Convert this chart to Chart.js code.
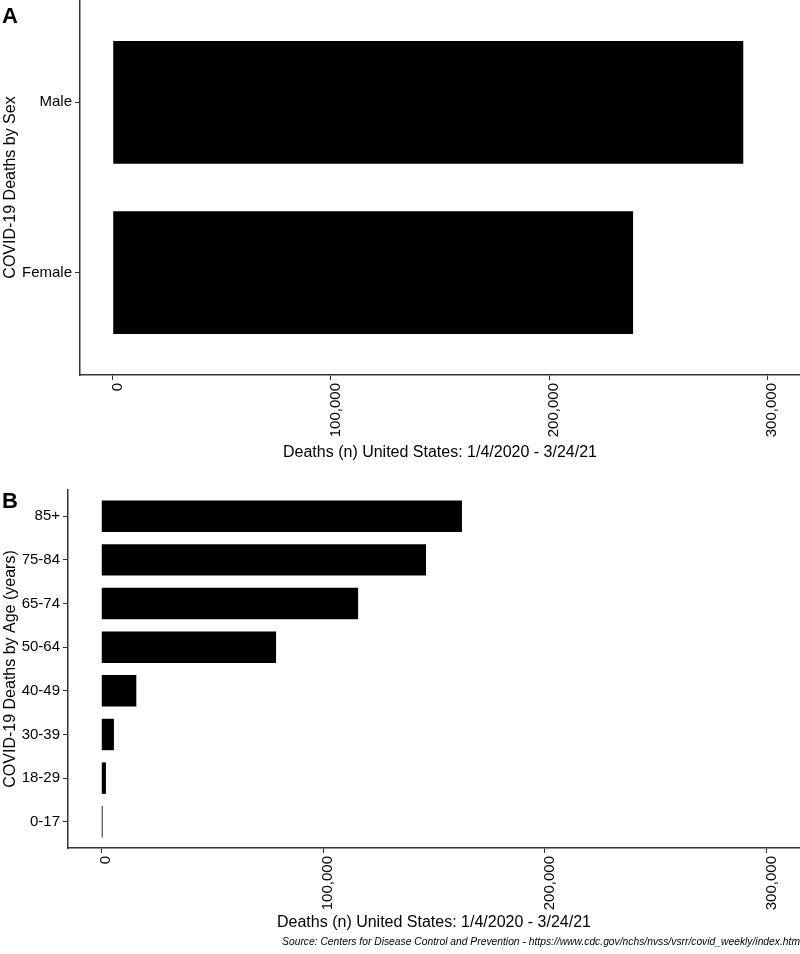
<!DOCTYPE html>
<html>
<head>
<meta charset="utf-8">
<script src="https://cdn.jsdelivr.net/npm/chart.js@4"></script>
<style>
  html, body { margin: 0; padding: 0; background: #fff; }
  body { width: 800px; height: 954px; position: relative; overflow: hidden; font-family: 'Liberation Sans', Arial, sans-serif; }
  .panel { position: absolute; left: 0; width: 800px; }
  .tag { position: absolute; left: 2px; font-weight: bold; font-size: 22px; line-height: 22px; color: #000; }
  #source { position: absolute; right: 0; top: 936px; font-size: 10.3px; font-style: italic; color: #000; white-space: nowrap; }
</style>
</head>
<body>
<div class="panel" style="top:0;height:470px"><canvas id="sexChart"></canvas></div>
<div class="panel" style="top:470px;height:470px"><canvas id="ageChart"></canvas></div>
<div class="tag" style="top:5px">A</div>
<div class="tag" style="top:490px">B</div>
<div id="source">Source: Centers for Disease Control and Prevention - https://www.cdc.gov/nchs/nvss/vsrr/covid_weekly/index.htm</div>
<script>
// data, top to bottom as shown
const sexCategories = ['Male', 'Female'];
const sexDeaths = [289000, 238500];

const ageCategories = ['85+', '75-84', '65-74', '50-64', '40-49', '30-39', '18-29', '0-17'];
const ageDeaths = [162600, 146400, 115800, 78800, 15800, 5700, 2100, 600];

const deathTicks = [0, 100000, 200000, 300000];
const xTitle = 'Deaths (n) United States: 1/4/2020 - 3/24/21';

const FONT = "'Liberation Sans', Arial, sans-serif";
const AXIS = '#333';

// ggplot-ish discrete axis: categories sit at 1..n with 0.6 padding each side
function makePanel(canvas, categories, values, yTitle, yWidth, xHeight, topPad) {
  const n = categories.length;
  const points = values.map((v, i) => ({ x: v, y: n - i }));

  return new Chart(canvas, {
    type: 'bar',
    data: {
      datasets: [{
        data: points,
        backgroundColor: '#000',
        borderWidth: 0,
        categoryPercentage: 1,
        barPercentage: 0.72,
      }],
    },
    options: {
      indexAxis: 'y',
      responsive: true,
      maintainAspectRatio: false,
      animation: false,
      layout: { padding: { top: topPad, left: 0, right: 0, bottom: 0 } },
      plugins: { legend: { display: false }, tooltip: { enabled: false } },
      scales: {
        x: {
          type: 'linear',
          min: -15000,
          max: 315000,
          offset: false,
          afterBuildTicks: (s) => { s.ticks = deathTicks.map((v) => ({ value: v })); },
          afterFit: (s) => {
            s.height = xHeight;
            s.paddingLeft = 0; s.paddingRight = 0;
          },
          ticks: {
            minRotation: 90,
            maxRotation: 90,
            padding: 3,
            labelOffset: 5,
            color: '#000',
            font: { family: FONT, size: 15 },
            callback: (v) => v.toLocaleString('en-US'),
          },
          grid: { display: true, drawOnChartArea: false, drawTicks: true, tickLength: 5, color: AXIS, offset: false },
          border: { display: true, color: AXIS, width: 1.5 },
          title: {
            display: true,
            text: xTitle,
            color: '#000',
            font: { family: FONT, size: 16 },
            padding: { top: 0, bottom: 8 },
          },
        },
        y: {
          type: 'linear',
          min: 0.4,
          max: n + 0.6,
          offset: false,
          afterBuildTicks: (s) => { s.ticks = categories.map((c, i) => ({ value: n - i })); },
          afterFit: (s) => {
            s.width = yWidth;
            s.paddingTop = 0; s.paddingBottom = 0;
          },
          ticks: {
            padding: 3,
            color: '#000',
            font: { family: FONT, size: 15 },
            callback: (v) => categories[n - v],
          },
          grid: { display: true, drawOnChartArea: false, drawTicks: true, tickLength: 5, color: AXIS, offset: false },
          border: { display: true, color: AXIS, width: 1.5 },
          title: {
            display: true,
            text: yTitle,
            color: '#000',
            font: { family: FONT, size: 16 },
            padding: { top: 1, bottom: 0 },
          },
        },
      },
    },
  });
}

makePanel(document.getElementById('sexChart'), sexCategories, sexDeaths, 'COVID-19 Deaths by Sex', 80, 95, 0);
makePanel(document.getElementById('ageChart'), ageCategories, ageDeaths, 'COVID-19 Deaths by Age (years)', 68, 92, 20);
</script>
</body>
</html>
